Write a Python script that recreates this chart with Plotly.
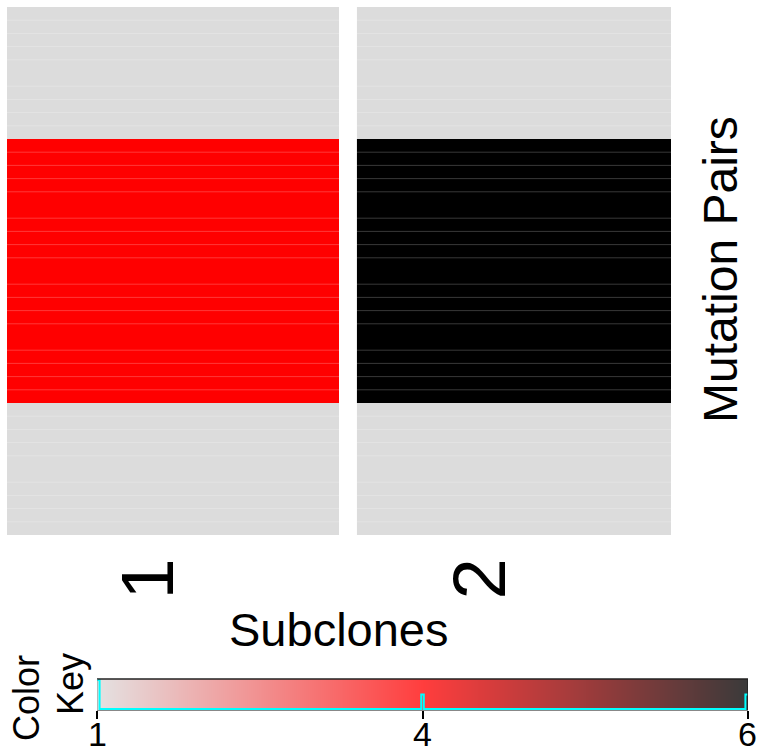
import plotly.graph_objects as go

# ---------------- data ----------------
SUBCLONES = ["1", "2"]
MUTATION_PAIRS = list(range(1, 41))
SUBCLONE_1 = [1, 1, 1, 1, 1, 1, 1, 1, 1, 1,
              4, 4, 4, 4, 4, 4, 4, 4, 4, 4,
              4, 4, 4, 4, 4, 4, 4, 4, 4, 4,
              1, 1, 1, 1, 1, 1, 1, 1, 1, 1]
SUBCLONE_2 = [1, 1, 1, 1, 1, 1, 1, 1, 1, 1,
              6, 6, 6, 6, 6, 6, 6, 6, 6, 6,
              6, 6, 6, 6, 6, 6, 6, 6, 6, 6,
              1, 1, 1, 1, 1, 1, 1, 1, 1, 1]
KEY_VALUES = [1, 4, 6]
KEY_LABELS = ["1", "4", "6"]
KEY_POSITIONS = [0.0, 0.5, 1.0]
CELL_COLORS = ["#DCDCDC", "#FF0000", "#000000"]
KEY_COLORS = ["#E4E2E2", "#FF3D3D", "#3A3A3A"]

# ---------------- helpers ----------------
W, H = 759, 755
FONT = "Liberation Sans, Arial, Helvetica, sans-serif"


def px(x):
    return x / W


def py(y):
    return 1 - y / H


vmin, vmax = min(KEY_VALUES), max(KEY_VALUES)
cell_scale = [[(v - vmin) / (vmax - vmin), c] for v, c in zip(KEY_VALUES, CELL_COLORS)]
key_scale = [[(v - vmin) / (vmax - vmin), c] for v, c in zip(KEY_VALUES, KEY_COLORS)]

rows = list(range(len(MUTATION_PAIRS)))
cols = [1, 2]
z = [[SUBCLONE_1[i], SUBCLONE_2[i]] for i in rows]

fig = go.Figure()
fig.add_trace(go.Heatmap(
    z=z, x=cols, y=rows, colorscale=cell_scale, zmin=vmin, zmax=vmax,
    showscale=False, hoverinfo="skip", xaxis="x", yaxis="y"))

# counts for the key's histogram trace
all_vals = SUBCLONE_1 + SUBCLONE_2
counts = [all_vals.count(v) for v in KEY_VALUES]
ytop = max(counts)

# colour key gradient
fig.add_trace(go.Heatmap(
    z=[KEY_VALUES, KEY_VALUES], x=KEY_POSITIONS, y=[-1.4, ytop + 1.4],
    colorscale=key_scale, zmin=vmin, zmax=vmax, zsmooth="best",
    showscale=False, hoverinfo="skip", xaxis="x2", yaxis="y2"))

# histogram step line (density trace style)
w = 0.004
hx = [KEY_POSITIONS[0], KEY_POSITIONS[0] + w, KEY_POSITIONS[0] + w,
      KEY_POSITIONS[1] - w / 2, KEY_POSITIONS[1] - w / 2,
      KEY_POSITIONS[1] + w / 2, KEY_POSITIONS[1] + w / 2,
      KEY_POSITIONS[2] - w, KEY_POSITIONS[2] - w, KEY_POSITIONS[2]]
hy = [counts[0], counts[0], 0, 0, counts[1], counts[1], 0, 0, counts[2], counts[2]]
fig.add_trace(go.Scatter(x=hx, y=hy, mode="lines", line=dict(color="#00FFFF", width=2),
                         hoverinfo="skip", showlegend=False, xaxis="x2", yaxis="y2"))

shapes = []
# faint row separators
for i in range(1, len(rows)):
    if i % 5 == 0:
        continue
    shapes.append(dict(type="line", xref="x", yref="y", x0=0.5, x1=2.5, y0=i - 0.5, y1=i - 0.5,
                       line=dict(color="rgba(255,255,255,0.22)", width=1), layer="above"))
# column separator
shapes.append(dict(type="rect", xref="x", yref="y", x0=1.5, x1=1.554, y0=-0.5, y1=len(rows) - 0.5,
                   fillcolor="white", line=dict(width=0), layer="above"))
# key outline
shapes.append(dict(type="line", xref="x2", yref="paper", x0=0, x1=1, y0=py(679), y1=py(679),
                   line=dict(color="#222222", width=1.5)))
shapes.append(dict(type="line", xref="x2", yref="paper", x0=1, x1=1, y0=py(679), y1=py(710),
                   line=dict(color="#222222", width=1.5)))
shapes.append(dict(type="line", xref="x2", yref="paper", x0=0, x1=0, y0=py(679), y1=py(710),
                   line=dict(color="#888888", width=1)))

annotations = [
    dict(text="Subclones", x=px(339), y=py(629), xref="paper", yref="paper",
         xanchor="center", yanchor="middle",
         showarrow=False, font=dict(size=47, color="black", family=FONT)),
    dict(text="Mutation Pairs", x=px(720), y=py(270), xref="paper", yref="paper",
         xanchor="center", yanchor="middle",
         textangle=-90, showarrow=False, font=dict(size=48, color="black", family=FONT)),
    dict(text="Color", x=px(26), y=py(698), xref="paper", yref="paper",
         xanchor="center", yanchor="middle",
         textangle=-90, showarrow=False, font=dict(size=36, color="black", family=FONT)),
    dict(text="Key", x=px(70), y=py(684), xref="paper", yref="paper",
         xanchor="center", yanchor="middle",
         textangle=-90, showarrow=False, font=dict(size=36, color="black", family=FONT)),
]
for c, lab in zip(cols, SUBCLONES):
    annotations.append(dict(text=lab, x=c, xref="x", xshift=-26, xanchor="center",
                            y=py(557), yref="paper", yanchor="top",
                            textangle=-90, showarrow=False,
                            font=dict(size=74, color="black", family=FONT)))
# colour-key tick labels
for pos, lab in zip(KEY_POSITIONS, KEY_LABELS):
    annotations.append(dict(text=lab, x=pos, xref="x2", xanchor="center",
                            xshift=-1 if pos == KEY_POSITIONS[-1] else 0,
                            y=py(754.5), yref="paper", yanchor="bottom", showarrow=False,
                            font=dict(size=34, color="black", family=FONT)))

fig.update_layout(
    width=W, height=H, margin=dict(l=0, r=0, t=0, b=0, autoexpand=False),
    paper_bgcolor="white", plot_bgcolor="white", showlegend=False,
    xaxis=dict(domain=[px(7), px(671)], range=[0.5, 2.5], visible=False, automargin=False),
    yaxis=dict(domain=[py(535), py(7)], range=[len(rows) - 0.5, -0.5], visible=False,
               automargin=False),
    xaxis2=dict(domain=[px(97), px(748)], range=[0, 1], anchor="y2", automargin=False,
                tickvals=KEY_POSITIONS, showticklabels=False, ticks="outside", ticklen=8,
                tickcolor="black", tickwidth=1.5, showline=True, linecolor="#888888",
                showgrid=False, zeroline=False),
    yaxis2=dict(domain=[py(710), py(679)], range=[-1.4, ytop + 1.4], anchor="x2",
                visible=False, automargin=False),
    shapes=shapes, annotations=annotations,
)

fig.write_html("out.html",
               post_script="document.body.style.margin='0';"
                           "document.documentElement.style.overflow='hidden';")
